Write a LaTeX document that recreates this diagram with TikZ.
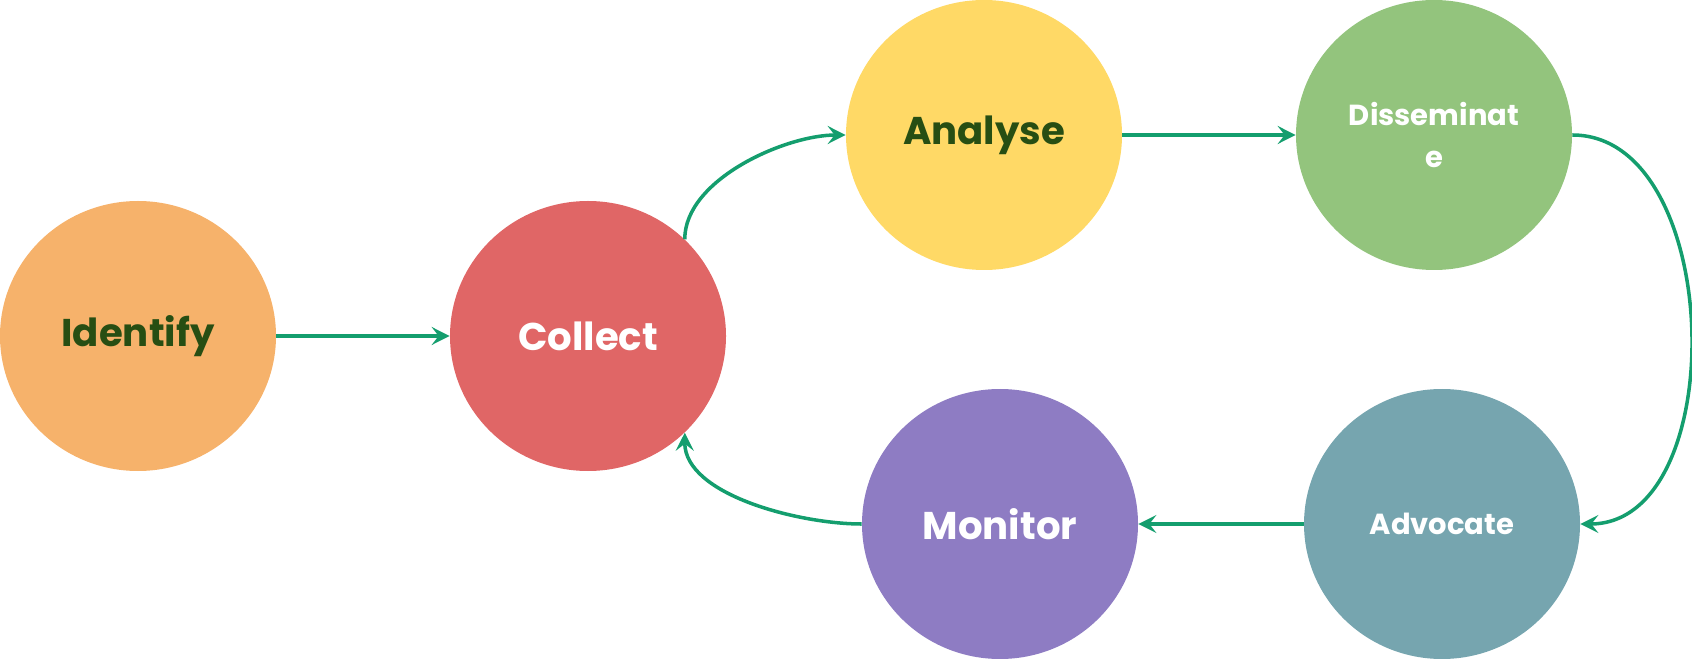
\documentclass[tikz,border=0pt]{standalone}
\usepackage{fontspec}
\setmainfont{Poppins}
\usetikzlibrary{shapes.geometric, arrows.meta}
\definecolor{identorange}{RGB}{246, 178, 107}
\definecolor{collectred}{RGB}{224, 102, 102}
\definecolor{analyseyellow}{RGB}{255, 217, 102}
\definecolor{dissgreen}{RGB}{147, 196, 125}
\definecolor{advocateteal}{RGB}{118, 165, 175}
\definecolor{monitorpurple}{RGB}{142, 124, 195}
\definecolor{darktext}{RGB}{39, 78, 19}
\definecolor{flowgreen}{RGB}{20, 158, 110}
\tikzset{
    stage/.style={
        ellipse, minimum width=5.52cm, minimum height=5.4cm, inner sep=0pt,
        draw=none, text=white, font=\fontsize{22}{26}\selectfont\bfseries,
        align=center
    },
    smallstage/.style={stage, font=\fontsize{16.5}{24}\selectfont\bfseries},
    darkstage/.style={stage, text=darktext},
    flow/.style={-{Stealth[length=3.6mm, width=3.6mm, inset=1.4mm]}, line width=2pt, color=flowgreen},
}
\begin{document}
\begin{tikzpicture}
    \useasboundingbox (0, 0) rectangle (33.84, 13.16);

    \node[darkstage, fill=identorange] (identify) at (2.76, 6.44) {Identify};
    \node[stage, fill=collectred] (collect) at (11.76, 6.44) {Collect};
    \node[darkstage, fill=analyseyellow] (analyse) at (19.68, 10.46) {Analyse};
    \node[smallstage, fill=dissgreen] (disseminate) at (28.68, 10.46) {Disseminat\\e};
    \node[smallstage, fill=advocateteal] (advocate) at (28.84, 2.68) {Advocate};
    \node[stage, fill=monitorpurple] (monitor) at (20.0, 2.68) {Monitor};

    \draw[flow] (identify) -- (collect);
    \draw[flow] (collect.45) to[out=90, in=180, looseness=0.8] (analyse.west);
    \draw[flow] (analyse) -- (disseminate);
    \draw[flow] (disseminate.east) to[out=0, in=0] (advocate.east);
    \draw[flow] (advocate) -- (monitor);
    \draw[flow] (monitor.west) to[out=180, in=-90, looseness=0.8] (collect.-45);
\end{tikzpicture}
\end{document}
